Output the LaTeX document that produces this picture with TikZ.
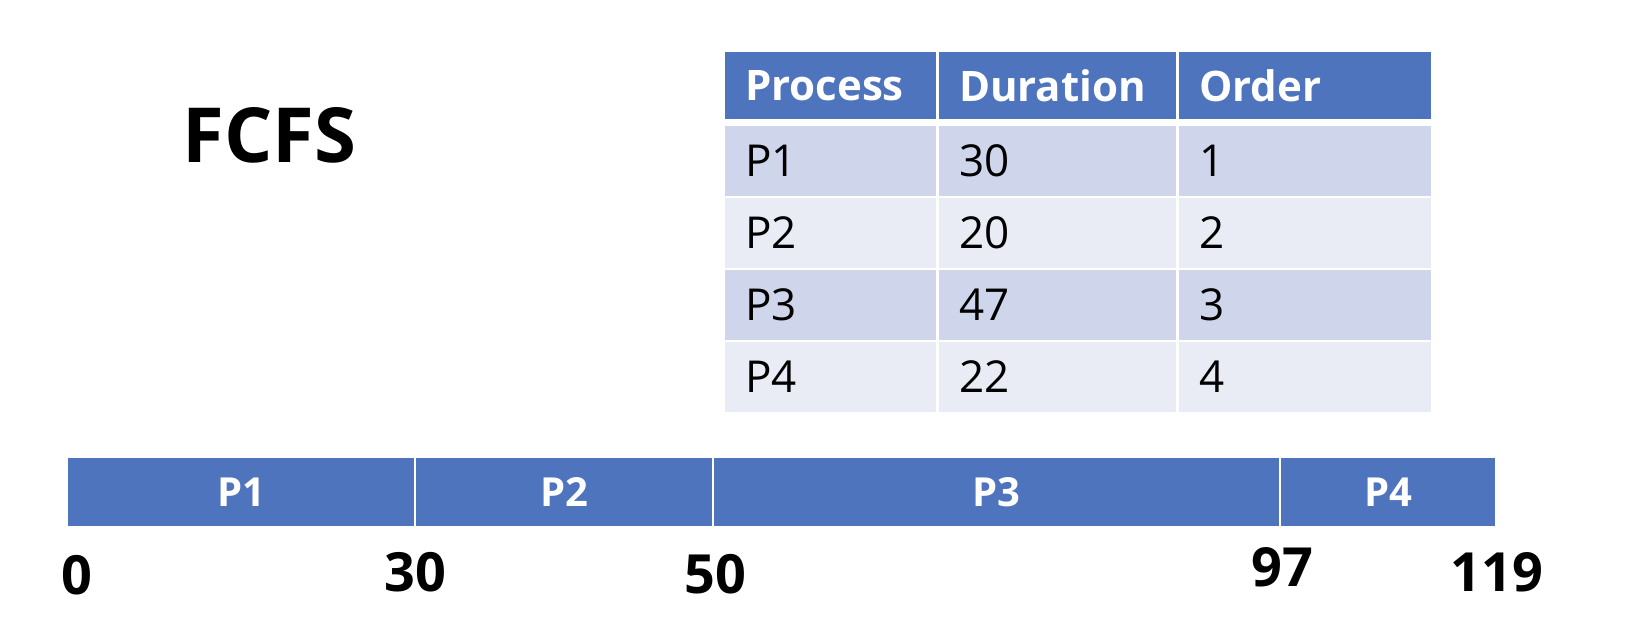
\documentclass[tikz,border=0pt]{standalone}
\usepackage{fontspec}
\setmainfont{Open Sans}
\usepackage{tikz}
\usetikzlibrary{positioning}
\definecolor{accent}{HTML}{4E74BE}
\definecolor{rowdark}{HTML}{CFD5EA}
\definecolor{rowlight}{HTML}{E9EBF5}
\tikzset{
  cell/.style={anchor=north west, inner xsep=10pt, inner ysep=0pt, outer sep=0pt, align=left, minimum height=35pt},
  headcell/.style={cell, fill=accent, text=white, minimum height=33.5pt, font=\bfseries\fontsize{21}{24}\selectfont},
  bodycell/.style={cell, font=\fontsize{22}{26}\selectfont},
  bar/.style={fill=accent, text=white, minimum height=34pt, inner sep=0pt, outer sep=0pt, font=\bfseries\fontsize{20}{23}\selectfont},
  tick/.style={font=\bfseries\fontsize{27}{30}\selectfont, inner sep=0pt}
}

\begin{document}
\begin{tikzpicture}[x=0.5pt, y=-0.5pt]
  \useasboundingbox (0,0) rectangle (1631,617);

  \node[anchor=west, inner sep=0pt, font=\bfseries\fontsize{38}{44}\selectfont] (title) at (182,135) {FCFS};

  % table header
  \node[headcell, text width=85.5pt] (hproc) at (725,52) {Process};
  \node[headcell, text width=98.5pt] (hdur) at (939,52) {Duration};
  \node[headcell, text width=106pt] (hord) at (1179,52) {Order};

  % table rows
  \node[bodycell, fill=rowdark, text width=85.5pt] (proc1) at (725,126) {P1};
  \node[bodycell, fill=rowdark, text width=98.5pt] (dur1) at (939,126) {30};
  \node[bodycell, fill=rowdark, text width=106pt] (ord1) at (1179,126) {1};

  \node[bodycell, fill=rowlight, text width=85.5pt] (proc2) at (725,198) {P2};
  \node[bodycell, fill=rowlight, text width=98.5pt] (dur2) at (939,198) {20};
  \node[bodycell, fill=rowlight, text width=106pt] (ord2) at (1179,198) {2};

  \node[bodycell, fill=rowdark, text width=85.5pt] (proc3) at (725,270) {P3};
  \node[bodycell, fill=rowdark, text width=98.5pt] (dur3) at (939,270) {47};
  \node[bodycell, fill=rowdark, text width=106pt] (ord3) at (1179,270) {3};

  \node[bodycell, fill=rowlight, text width=85.5pt] (proc4) at (725,342) {P4};
  \node[bodycell, fill=rowlight, text width=98.5pt] (dur4) at (939,342) {22};
  \node[bodycell, fill=rowlight, text width=106pt] (ord4) at (1179,342) {4};

  % gantt bar
  \node[bar, anchor=north west, minimum width=173pt] (gp1) at (68,458) {P1};
  \node[bar, minimum width=148pt, right=1pt of gp1] (gp2) {P2};
  \node[bar, minimum width=282.5pt, right=1pt of gp2] (gp3) {P3};
  \node[bar, minimum width=107pt, right=1pt of gp3] (gp4) {P4};

  % time marks
  \node[tick] (t0) at (77,575) {0};
  \node[tick] (t30) at (415,572) {30};
  \node[tick] (t50) at (715,574) {50};
  \node[tick] (t97) at (1282,567) {97};
  \node[tick] (t119) at (1497,572) {119};
\end{tikzpicture}
\end{document}
